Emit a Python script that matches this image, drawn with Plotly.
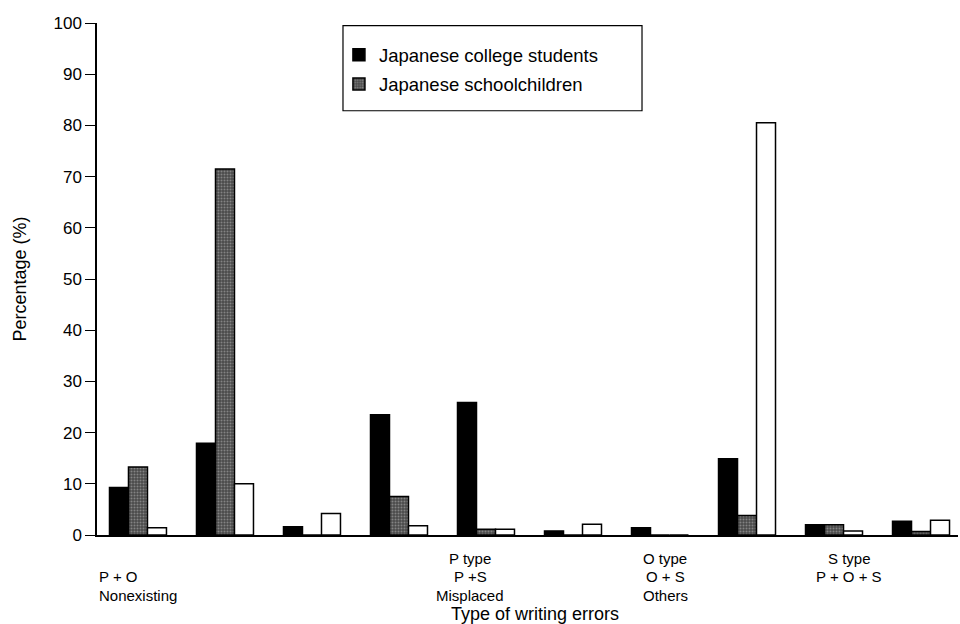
import plotly.graph_objects as go

categories = ["P type", "O type", "S type", "P + O", "P + S", "O + S",
              "P + O + S", "Nonexisting", "Misplaced", "Others"]
college = [9.3, 17.9, 1.6, 23.5, 25.9, 0.8, 1.4, 14.9, 2.0, 2.7]
school = [13.3, 71.5, 0.0, 7.5, 1.1, 0.0, 0.0, 3.8, 2.0, 0.7]
third = [1.4, 10.0, 4.2, 1.8, 1.1, 2.1, 0.0, 80.5, 0.8, 2.9]
series_names = ["Japanese college students", "Japanese schoolchildren", "Other group"]
y_ticks = list(range(0, 101, 10))

# category-label block drawn under the axis (three text rows, four columns)
label_rows = [["", "P type", "O type", "S type"],
              ["P + O", "P +S", "O + S", "P + O + S"],
              ["Nonexisting", "Misplaced", "Others", ""]]
x_title = "Type of writing errors"

FONT = "Liberation Sans, Arial, Helvetica, sans-serif"

fig = go.Figure()
fig.add_trace(go.Bar(x=categories, y=college, name=series_names[0], legendgroup="a",
                     marker=dict(color="black", line=dict(color="black", width=1.5))))
fig.add_trace(go.Bar(x=categories, y=school, name=series_names[1], legendgroup="b",
                     marker=dict(color="#4a4a4a", line=dict(color="black", width=1.5),
                                 pattern=dict(shape=".", fgcolor="#bbbbbb", size=3, solidity=0.35))))
fig.add_trace(go.Bar(x=categories, y=third, name=series_names[2], showlegend=False, legendgroup="c",
                     marker=dict(color="white", line=dict(color="black", width=1.5))))

col_x = [0.0, (470 - 97) / 861, (665 - 97) / 861, (849 - 97) / 861]
col_anchor = ["left", "center", "center", "center"]
row_shift = [-23, -41, -60]
for r, row in enumerate(label_rows):
    for c, txt in enumerate(row):
        if not txt:
            continue
        fig.add_annotation(x=col_x[c], y=0, xref="paper", yref="paper", text=txt,
                           showarrow=False, xanchor=col_anchor[c], yanchor="middle",
                           yshift=row_shift[r],
                           font=dict(family=FONT, size=15, color="black"))

fig.add_annotation(x=(535 - 97) / 861, y=0, xref="paper", yref="paper", text=x_title,
                   showarrow=False, xanchor="center", yanchor="middle", yshift=-79,
                   font=dict(family=FONT, size=18, color="black"))

fig.add_shape(type="rect", xref="paper", yref="paper", x0=0.2857, x1=0.633, y0=0.8286, y1=0.9947,
              line=dict(color="black", width=1.2), fillcolor="white", layer="below")

fig.update_layout(
    width=960, height=624,
    margin=dict(l=97, r=2, t=23, b=89),
    paper_bgcolor="white", plot_bgcolor="white",
    barmode="group", bargap=0.345, bargroupgap=0,
    font=dict(family=FONT, size=17, color="black"),
    showlegend=True,
    legend=dict(x=0.281, y=0.974, xanchor="left", yanchor="top",
                bgcolor="rgba(0,0,0,0)", borderwidth=0, tracegroupgap=2,
                font=dict(family=FONT, size=18.5), traceorder="grouped"),
    xaxis=dict(range=[-0.471, 9.425], showticklabels=False, ticks="",
               showline=True, linecolor="black", linewidth=1.5, showgrid=False, zeroline=False),
    yaxis=dict(range=[0, 100], tickvals=y_ticks, ticks="outside", ticklen=10, tickwidth=1.2,
               tickcolor="black", showline=True, linecolor="black", linewidth=1.5,
               showgrid=False, zeroline=False,
               title=dict(text="Percentage (%)", standoff=22, font=dict(family=FONT, size=18)),
               tickfont=dict(family=FONT, size=17)),
)

fig.write_html("out.html", config={"displayModeBar": False},
               post_script="document.body.style.margin='0px';")
